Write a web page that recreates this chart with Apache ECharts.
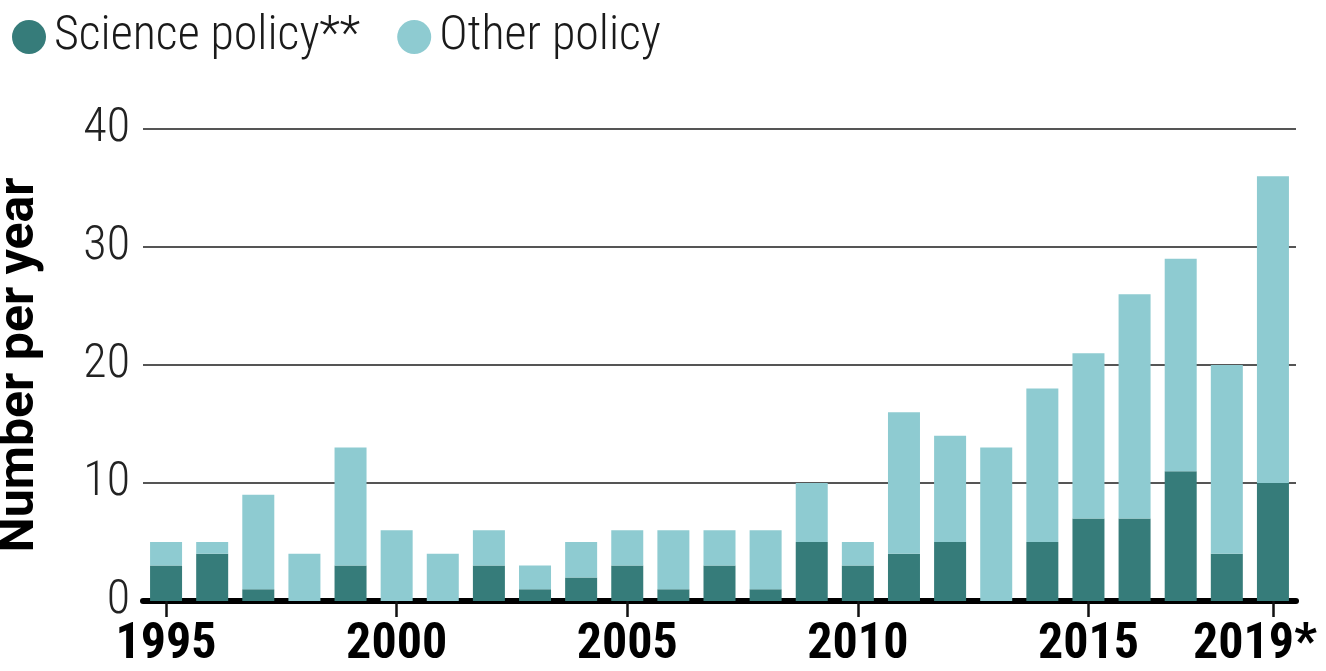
<!DOCTYPE html>
<html>
<head>
<meta charset="utf-8">
<script src="https://cdn.jsdelivr.net/npm/echarts@6/dist/echarts.min.js"></script>
<style>
html,body{margin:0;padding:0;background:#fff;}
#chart{width:1326px;height:671px;}
</style>
</head>
<body>
<div id="chart"></div>
<script>
var years = ['1995','1996','1997','1998','1999','2000','2001','2002','2003','2004','2005','2006','2007','2008','2009','2010','2011','2012','2013','2014','2015','2016','2017','2018','2019*'];
var sciencePolicy = [3,4,1,0,3,0,0,3,1,2,3,1,3,1,5,3,4,5,0,5,7,7,11,4,10];
var totals =        [5,5,9,4,13,6,4,6,3,5,6,6,6,6,10,5,16,14,13,18,21,26,29,20,36];
var otherPolicy = totals.map(function(t,i){return t - sciencePolicy[i];});
var labeledYears = ['1995','2000','2005','2010','2015','2019*'];
var yTicks = [0,10,20,30,40];

var showIdx = function(i, v){ return labeledYears.indexOf(years[i]) >= 0; };

var chart = echarts.init(document.getElementById('chart'));
chart.setOption({
  animation:false,
  legend:{
    left:7, top:8,
    icon:'circle', itemWidth:34, itemHeight:34, itemGap:37,
    textStyle:{fontFamily:'Roboto Condensed', fontSize:48, color:'#1a1a1a', fontWeight:300, padding:[0,0,0,3]},
    data:['Science policy**','Other policy']
  },
  grid:{left:143, right:30, top:129, bottom:70, containLabel:false, outerBoundsMode:'none'},
  xAxis:{
    type:'category', data:years,
    axisLine:{lineStyle:{color:'#000', width:6}},
    axisTick:{show:true, interval:showIdx, alignWithLabel:true, length:16, lineStyle:{color:'#111', width:2.5}},
    axisLabel:{interval:showIdx, fontFamily:'Roboto Condensed', fontWeight:'bold', fontSize:50, color:'#000', margin:19,
      formatter:function(v, i){ return i === years.length - 1 ? '{last|' + v + '}' : v; },
      rich:{last:{fontFamily:'Roboto Condensed', fontWeight:'bold', fontSize:50, color:'#000', padding:[0,36,0,0]}}
    }
  },
  yAxis:{
    type:'value', min:0, max:40, interval:10,
    name:'Number per year', nameLocation:'middle', nameGap:98,
    nameTextStyle:{fontFamily:'Roboto, sans-serif', fontWeight:'bold', fontSize:50, color:'#000'},
    axisLine:{show:false}, axisTick:{show:false},
    axisLabel:{fontFamily:'Roboto Condensed', fontWeight:300, fontSize:48, color:'#222', margin:13,
      formatter:function(v){return yTicks.indexOf(v)>=0 ? String(v) : '';}},
    splitLine:{lineStyle:{color:'#555', width:2}}
  },
  series:[
    {name:'Science policy**', type:'bar', stack:'a', data:sciencePolicy, barWidth:32, itemStyle:{color:'#367C7A'}},
    {name:'Other policy', type:'bar', stack:'a', data:otherPolicy, barWidth:32, itemStyle:{color:'#8ECBD1'}}
  ]
});
</script>
</body>
</html>
